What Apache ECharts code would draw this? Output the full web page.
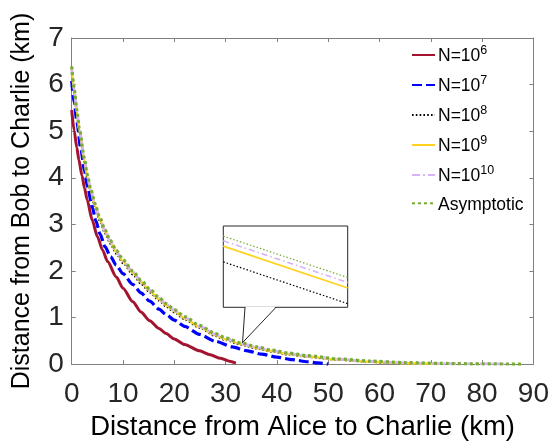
<!DOCTYPE html>
<html><head><meta charset="utf-8">
<script src="https://cdn.jsdelivr.net/npm/echarts@6/dist/echarts.min.js"></script>
<style>html,body{margin:0;padding:0;background:#fff}#c{width:552px;height:446px}</style>
</head><body><div id="c"></div>
<script>
// ---- data ----
const seriesNames = ['N=10^6', 'N=10^7', 'N=10^8', 'N=10^9', 'N=10^10', 'Asymptotic'];

const redX = [0, 0.5, 1, 1.4, 2, 2.5, 3, 4, 5, 6, 7, 8.7, 10, 11.9, 13.5, 15.2, 17, 18.4, 20, 22, 24.9, 27, 29, 31, 32];
const redY = [5.45, 5.0, 4.65, 4.38, 4.05, 3.78, 3.53, 3.09, 2.74, 2.45, 2.2, 1.87, 1.63, 1.34, 1.12, 0.93, 0.765, 0.655, 0.54, 0.42, 0.285, 0.2, 0.125, 0.055, 0.02];

const blueX = [0, 0.5, 1, 1.8, 2.5, 3.1, 4, 4.7, 5.5, 6.5, 7.6, 8.7, 10, 11.9, 13.5, 15.2, 17, 18.4, 20, 22, 24.9, 28, 31.3, 34, 37, 40, 43, 46, 48, 50];
const blueY = [6.08, 5.62, 5.2, 4.6, 4.14, 3.8, 3.37, 3.08, 2.8, 2.52, 2.3, 2.12, 1.94, 1.71, 1.53, 1.35, 1.18, 1.065, 0.945, 0.81, 0.64, 0.49, 0.37, 0.29, 0.215, 0.15, 0.095, 0.05, 0.025, 0];

const blackX = [0, 0.5, 1, 1.5, 2.45, 3, 3.74, 4.5, 5.4, 6.5, 7.5, 8.7, 10, 11.9, 13.5, 15.2, 17, 18.4, 20, 22, 24.9, 28, 30, 33, 36, 39, 42.3, 46, 52, 58, 62, 66];
const blackY = [6.3, 5.8, 5.36, 4.96, 4.34, 3.99, 3.66, 3.36, 3.08, 2.8, 2.58, 2.36, 2.16, 1.92, 1.72, 1.535, 1.36, 1.23, 1.105, 0.955, 0.775, 0.6, 0.51, 0.41, 0.33, 0.262, 0.2, 0.148, 0.085, 0.042, 0.02, 0];

const yellowX = [0, 0.5, 1, 1.5, 2.45, 3, 3.74, 4.5, 5.4, 6.5, 7.5, 8.7, 10, 11.9, 13.5, 15.2, 17, 18.4, 20, 22, 24.9, 28, 30, 33, 36, 39, 42.3, 46, 52, 58, 65, 72];
const yellowY = [6.35, 5.86, 5.41, 5.01, 4.39, 4.04, 3.71, 3.41, 3.13, 2.845, 2.625, 2.405, 2.205, 1.965, 1.765, 1.575, 1.395, 1.265, 1.135, 0.985, 0.8, 0.625, 0.53, 0.43, 0.348, 0.28, 0.215, 0.162, 0.095, 0.052, 0.018, 0];

const pinkX = [0, 0.5, 1, 1.5, 2.45, 3, 3.74, 4.5, 5.4, 6.5, 7.5, 8.7, 10, 11.9, 13.5, 15.2, 17, 18.4, 20, 22, 24.9, 28, 30, 33, 36, 39, 42.3, 46, 52, 58, 65, 75, 85];
const pinkY = [6.37, 5.88, 5.43, 5.03, 4.41, 4.06, 3.73, 3.43, 3.15, 2.86, 2.64, 2.42, 2.22, 1.98, 1.785, 1.595, 1.415, 1.285, 1.155, 1.005, 0.815, 0.64, 0.545, 0.443, 0.36, 0.29, 0.226, 0.172, 0.104, 0.06, 0.025, 0.007, 0];

const greenX = [0, 0.5, 1, 1.5, 2.45, 3, 3.74, 4.5, 5.4, 6.5, 7.5, 8.7, 10, 11.9, 13.5, 15.2, 17, 18.4, 20, 22, 24.9, 28, 30, 33, 36, 39, 42.3, 46, 52, 58, 65, 72, 80, 88];
const greenY = [6.39, 5.9, 5.45, 5.05, 4.43, 4.08, 3.75, 3.45, 3.17, 2.88, 2.66, 2.44, 2.24, 2.0, 1.8, 1.61, 1.43, 1.3, 1.17, 1.02, 0.83, 0.655, 0.56, 0.455, 0.37, 0.3, 0.235, 0.18, 0.11, 0.065, 0.032, 0.014, 0.004, 0];

// zoomed inset (magnified view near x ~ 33 km)
const insetX = [32.5, 34];
const insetGreen = [0.470, 0.4293];
const insetPink = [0.4655, 0.4244];
const insetYellow = [0.4602, 0.4190];
const insetBlack = [0.4447, 0.4036];
const insetPointer = [33.3, 0.46];

// ---- chart ----
const pairs = (xs, ys) => xs.map((x, i) => [x, ys[i]]);
const FONT = 'Liberation Sans, Arial, sans-serif';
const AX = '#808080';
const TXT = '#262626';
const inset = { left: 223.3, top: 226, width: 124.4, height: 81.3 };

const colors = {
  red: '#A2142F', blue: '#0000FF', black: '#000000',
  yellow: '#FFD21F', pink: '#D6B3F5', green: '#77AC30'
};

function mainLine(name, data, color, width, type, z) {
  return {
    name, type: 'line', data, xAxisIndex: 0, yAxisIndex: 0,
    showSymbol: false, symbol: 'none', smooth: 0.25, smoothMonotone: 'x',
    lineStyle: { color, width, type }, itemStyle: { color }, z,
    animation: false
  };
}
function insetLine(data, color, width, type) {
  return {
    type: 'line', data, xAxisIndex: 2, yAxisIndex: 2,
    showSymbol: false, symbol: 'none',
    lineStyle: { color, width, type }, animation: false, silent: true, z: 10
  };
}

const chart = echarts.init(document.getElementById('c'), null, { renderer: 'canvas' });

const option = {
  backgroundColor: '#fff',
  animation: false,
  textStyle: { fontFamily: FONT },
  grid: [
    { left: 71.7, right: 16, top: 38, bottom: 75 },
    { left: inset.left, top: inset.top, width: inset.width, height: inset.height,
      show: true, backgroundColor: '#fff', borderColor: '#262626', borderWidth: 1, z: 5 }
  ],
  xAxis: [
    { type: 'value', gridIndex: 0, min: 0, max: 90, interval: 10, position: 'bottom',
      name: 'Distance from Alice to Charlie (km)', nameLocation: 'middle', nameGap: 46,
      nameTextStyle: { fontSize: 27.5, color: '#000', fontFamily: FONT },
      axisLine: { show: true, lineStyle: { color: AX, width: 1 } },
      axisTick: { show: true, inside: true, length: 4, lineStyle: { color: AX } },
      axisLabel: { fontSize: 28, color: TXT, margin: 16, fontFamily: FONT },
      splitLine: { show: false } },
    { type: 'value', gridIndex: 0, min: 0, max: 90, interval: 10, position: 'top',
      axisLine: { show: true, onZero: false, lineStyle: { color: AX, width: 1 } },
      axisTick: { show: true, inside: true, length: 4, lineStyle: { color: AX } },
      axisLabel: { show: false }, splitLine: { show: false } },
    { type: 'value', gridIndex: 1, min: insetX[0], max: insetX[1], show: false }
  ],
  yAxis: [
    { type: 'value', gridIndex: 0, min: 0, max: 7, interval: 1, position: 'left',
      name: 'Distance from Bob to Charlie (km)', nameLocation: 'middle', nameGap: 37,
      nameTextStyle: { fontSize: 25, color: '#000', fontFamily: FONT },
      axisLine: { show: true, lineStyle: { color: AX, width: 1 } },
      axisTick: { show: true, inside: true, length: 4, lineStyle: { color: AX } },
      axisLabel: { fontSize: 28, color: TXT, margin: 8, fontFamily: FONT },
      splitLine: { show: false } },
    { type: 'value', gridIndex: 0, min: 0, max: 7, interval: 1, position: 'right',
      axisLine: { show: true, onZero: false, lineStyle: { color: AX, width: 1 } },
      axisTick: { show: true, inside: true, length: 4, lineStyle: { color: AX } },
      axisLabel: { show: false }, splitLine: { show: false } },
    { type: 'value', gridIndex: 1, min: 0.40, max: 0.48, show: false }
  ],
  legend: {
    data: seriesNames, orient: 'vertical', left: 411, top: 44.5,
    padding: 0, itemWidth: 23, itemHeight: 22, itemGap: 9,
    itemStyle: { color: 'rgba(0,0,0,0)', borderWidth: 0, opacity: 0 },
    formatter: function (name) {
      const m = name.match(/^N=10\^(\d+)$/);
      if (m) return '{n|N=10}{s|' + m[1] + '}';
      return '{n|' + name + '}';
    },
    textStyle: {
      fontFamily: FONT, color: '#000', padding: [0, 0, 0, -2],
      rich: {
        n: { fontSize: 17.5, fontFamily: FONT, color: '#000', lineHeight: 21, verticalAlign: 'bottom' },
        s: { fontSize: 12.5, fontFamily: FONT, color: '#000', lineHeight: 12, verticalAlign: 'top' }
      }
    }
  },
  series: [
    mainLine(seriesNames[0], pairs(redX, redY), colors.red, 3, 'solid', 2),
    mainLine(seriesNames[1], pairs(blueX, blueY), colors.blue, 3.2, [10, 4], 3),
    mainLine(seriesNames[2], pairs(blackX, blackY), colors.black, 1.6, [1.6, 2.2], 4),
    mainLine(seriesNames[3], pairs(yellowX, yellowY), colors.yellow, 2.4, 'solid', 5),
    mainLine(seriesNames[4], pairs(pinkX, pinkY), colors.pink, 2.8, [8, 3, 2, 3], 6),
    mainLine(seriesNames[5], pairs(greenX, greenY), colors.green, 3.2, [3, 3], 7),
    insetLine(pairs(insetX, insetBlack), colors.black, 1.2, [1.5, 2]),
    insetLine(pairs(insetX, insetYellow), colors.yellow, 1.8, 'solid'),
    insetLine(pairs(insetX, insetPink), colors.pink, 1.6, [6, 3, 1.5, 3]),
    insetLine(pairs(insetX, insetGreen), colors.green, 1.2, [1.5, 2])
  ]
};
chart.setOption(option);

// callout pointer from inset box to the curves
const tip = chart.convertToPixel({ xAxisIndex: 0, yAxisIndex: 0 }, insetPointer);
const by = inset.top + inset.height;
const lx = 245, rx = 276;
chart.setOption({
  graphic: [
    { type: 'polygon', z: 100, silent: true,
      shape: { points: [[lx + 0.5, by - 0.5], [tip[0], tip[1]], [rx - 0.5, by - 0.5]] },
      style: { fill: '#fff', stroke: null } },
    { type: 'polyline', z: 101, silent: true,
      shape: { points: [[lx, by], [tip[0], tip[1]], [rx, by]] },
      style: { stroke: '#262626', lineWidth: 1, fill: null } }
  ]
});
</script>
</body></html>
